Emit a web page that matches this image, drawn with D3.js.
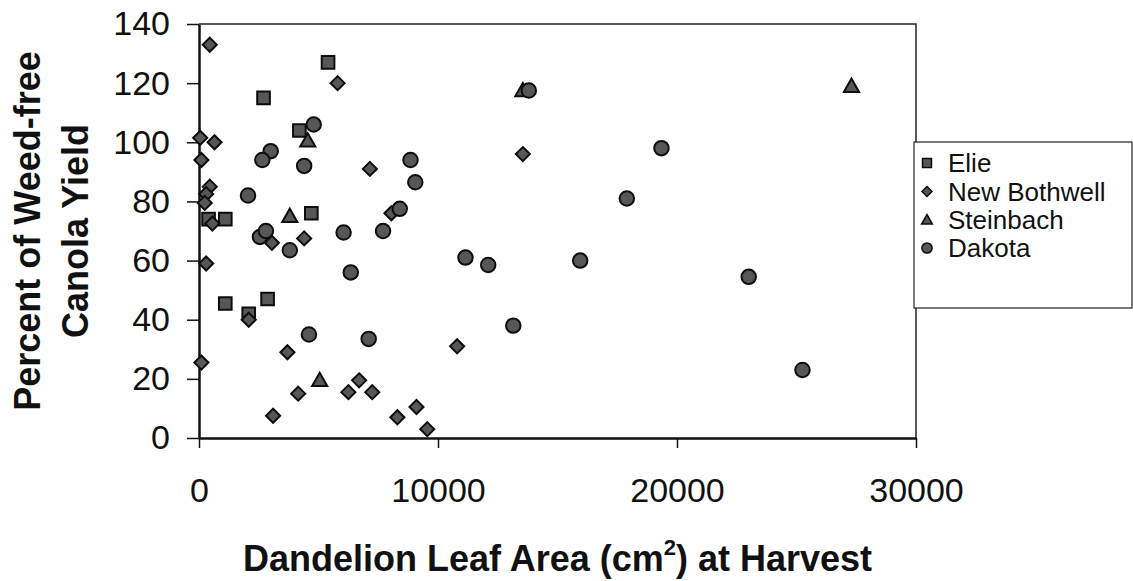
<!DOCTYPE html>
<html>
<head>
<meta charset="utf-8">
<script src="https://cdn.jsdelivr.net/npm/d3@7"></script>
<style>
  html, body { margin: 0; padding: 0; background: #fff; }
  svg { display: block; font-family: "Liberation Sans", Arial, sans-serif; }
</style>
</head>
<body>
<svg id="chart" width="1133" height="581"></svg>
<script>
// ---- Data ----
const seriesNames = ["Elie", "New Bothwell", "Steinbach", "Dakota"];

const elieX = [400, 1100, 2700, 4200, 4700, 5400, 1100, 2080, 2870];
const elieY = [74, 74, 115, 104, 76, 127, 45.5, 42, 47];

const newBothwellX = [450, 5800, 50, 650, 100, 7150, 13550, 450, 300, 240, 560, 8050, 3050, 4400, 300, 2080, 10800, 3700, 100, 6700, 6250, 7250, 4150, 3100, 8300, 9100, 9550];
const newBothwellY = [133, 120, 101.5, 100, 94, 91, 96, 85, 82.5, 79.5, 72.5, 76, 66, 67.5, 59, 40, 31, 29, 25.5, 19.5, 15.5, 15.5, 15, 7.5, 7, 10.5, 3];

const steinbachX = [13550, 4550, 3800, 5050, 27300];
const steinbachY = [117.5, 100.5, 75, 19.5, 119];

const dakotaX = [13800, 4800, 3000, 2650, 4400, 8850, 9050, 2050, 8400, 2550, 2800, 6050, 7700, 3800, 6350, 11150, 12100, 4600, 7100, 13150, 19350, 17900, 15950, 23000, 25250];
const dakotaY = [117.5, 106, 97, 94, 92, 94, 86.5, 82, 77.5, 68, 70, 69.5, 70, 63.5, 56, 61, 58.5, 35, 33.5, 38, 98, 81, 60, 54.5, 23];

const xTicks = [0, 10000, 20000, 30000];
const yTicks = [0, 20, 40, 60, 80, 100, 120, 140];

const xTitle = "Dandelion Leaf Area (cm";
const xTitleSup = "2";
const xTitleEnd = ") at Harvest";
const yTitle1 = "Percent of Weed-free";
const yTitle2 = "Canola Yield";

// ---- Layout ----
const svg = d3.select("#chart");
const L = 199, R = 916, T = 24, B = 438;

const x = d3.scaleLinear().domain([0, 30000]).range([L, R]);
const y = d3.scaleLinear().domain([0, 140]).range([B, T]);

// custom symbol shapes
const sqType = { draw(ctx, size) { const s = Math.sqrt(size) / 2; ctx.rect(-s, -s, 2 * s, 2 * s); } };
const diaType = { draw(ctx, size) { const s = Math.sqrt(size) / 2 * 1.15; ctx.moveTo(0, -s); ctx.lineTo(s, 0); ctx.lineTo(0, s); ctx.lineTo(-s, 0); ctx.closePath(); } };
const triType = { draw(ctx, size) { const w = Math.sqrt(size); ctx.moveTo(0, -w * 0.55); ctx.lineTo(w * 0.55, w * 0.42); ctx.lineTo(-w * 0.55, w * 0.42); ctx.closePath(); } };
const cirType = { draw(ctx, size) { const r = Math.sqrt(size) / 2; ctx.moveTo(r, 0); ctx.arc(0, 0, r, 0, 2 * Math.PI); } };

const series = [
  { name: seriesNames[0], xs: elieX, ys: elieY, type: sqType, size: 160 },
  { name: seriesNames[1], xs: newBothwellX, ys: newBothwellY, type: diaType, size: 150 },
  { name: seriesNames[2], xs: steinbachX, ys: steinbachY, type: triType, size: 190 },
  { name: seriesNames[3], xs: dakotaX, ys: dakotaY, type: cirType, size: 210 }
];

const markFill = "#575757";
const markStroke = "#0d0d0d";

// plot frame (top & right)
svg.append("path")
  .attr("d", `M${L},${T}H${R}V${B}`)
  .attr("fill", "none").attr("stroke", "#222").attr("stroke-width", 1.5);

// axes
const yAxis = d3.axisLeft(y).tickValues(yTicks).tickSize(12).tickSizeOuter(0).tickPadding(17);
const gy = svg.append("g").attr("transform", `translate(${L},0)`).call(yAxis);
gy.select(".domain").attr("stroke", "#111").attr("stroke-width", 2.5);
gy.selectAll(".tick line").attr("stroke", "#111").attr("stroke-width", 1.5);
gy.selectAll(".tick text").attr("font-size", 34).attr("fill", "#111")
  .attr("font-family", "Liberation Sans, Arial, sans-serif");

const xAxis = d3.axisBottom(x).tickValues(xTicks).tickSize(10).tickSizeOuter(0).tickPadding(30).tickFormat(d3.format("d"));
const gx = svg.append("g").attr("transform", `translate(0,${B})`).call(xAxis);
gx.select(".domain").attr("stroke", "#111").attr("stroke-width", 2.5);
gx.selectAll(".tick line").attr("stroke", "#111").attr("stroke-width", 1.5);
gx.selectAll(".tick text").attr("font-size", 34).attr("fill", "#111")
  .attr("font-family", "Liberation Sans, Arial, sans-serif");

// points
series.forEach(s => {
  const pts = s.xs.map((v, i) => [v, s.ys[i]]);
  svg.append("g").selectAll("path").data(pts).join("path")
    .attr("d", d3.symbol().type(s.type).size(s.size))
    .attr("transform", d => `translate(${x(d[0])},${y(d[1])})`)
    .attr("fill", markFill).attr("stroke", markStroke).attr("stroke-width", 2);
});

// axis titles
const xt = svg.append("text")
  .attr("x", (L + R) / 2).attr("y", 571)
  .attr("text-anchor", "middle")
  .attr("font-size", 36).attr("font-weight", "bold").attr("fill", "#111");
xt.append("tspan").text(xTitle);
xt.append("tspan").attr("font-size", 22).attr("dy", -16).text(xTitleSup);
xt.append("tspan").attr("dy", 16).text(xTitleEnd);

const cy = (T + B) / 2;
svg.append("text")
  .attr("transform", `translate(40,${cy}) rotate(-90)`)
  .attr("text-anchor", "middle")
  .attr("font-size", 36).attr("font-weight", "bold").attr("fill", "#111")
  .text(yTitle1);
svg.append("text")
  .attr("transform", `translate(88,${cy}) rotate(-90)`)
  .attr("text-anchor", "middle")
  .attr("font-size", 36).attr("font-weight", "bold").attr("fill", "#111")
  .text(yTitle2);

// legend
const lg = svg.append("g");
lg.append("rect").attr("x", 914).attr("y", 142).attr("width", 218).attr("height", 166)
  .attr("fill", "#fff").attr("stroke", "#222").attr("stroke-width", 1.2);
const legY = [163, 191.5, 220, 248];
series.forEach((s, i) => {
  lg.append("path")
    .attr("d", d3.symbol().type(s.type).size(s.size * 0.5)())
    .attr("transform", `translate(927,${legY[i]})`)
    .attr("fill", markFill).attr("stroke", markStroke).attr("stroke-width", 1.5);
  lg.append("text").attr("x", 948).attr("y", legY[i]).attr("dy", "0.36em")
    .attr("font-size", 26).attr("fill", "#111").text(s.name);
});
</script>
</body>
</html>
